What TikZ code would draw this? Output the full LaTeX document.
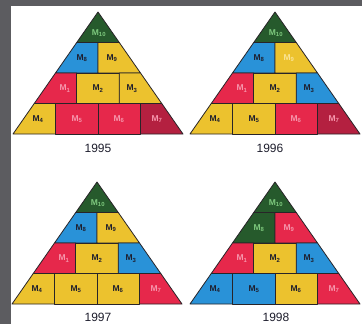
\documentclass[tikz,border=0pt]{standalone}
\usepackage{fontspec}
\setmainfont{Liberation Sans}
\usepackage{tikz}

\definecolor{frame}{RGB}{92,92,96}
\definecolor{edge}{RGB}{40,36,40}
\definecolor{cgreen}{RGB}{38,90,44}
\definecolor{cblue}{RGB}{41,146,216}
\definecolor{cyellow}{RGB}{236,194,46}
\definecolor{cred}{RGB}{230,40,75}
\definecolor{cwine}{RGB}{180,32,64}
\definecolor{tdark}{RGB}{30,30,45}
\definecolor{tgreen}{RGB}{125,200,125}
\definecolor{tpink}{RGB}{246,150,172}
\definecolor{tpale}{RGB}{250,228,150}

% one pyramid, apex at the origin; #1 = node prefix
\newcommand{\pyramid}[1]{%
  \path[cell,c10] (0,0) -- (-21.25,30.5) -- (21.25,30.5) -- cycle;
  \path[cell,c8] (-21.25,30.5) -- (0,30.5) -- (0,61) -- (-42.5,61) -- cycle;
  \path[cell,c9] (0,30.5) -- (21.25,30.5) -- (42.5,61) -- (0,61) -- cycle;
  \path[cell,c1] (-42.5,61) -- (-21.25,61) -- (-21.25,91.5) -- (-63.75,91.5) -- cycle;
  \path[cell,c2] (-21.25,61) rectangle (21.25,91.5);
  \path[cell,c3] (21.25,61) -- (42.5,61) -- (63.75,91.5) -- (21.25,91.5) -- cycle;
  \path[cell,c4] (-63.75,91.5) -- (-42.5,91.5) -- (-42.5,122) -- (-85,122) -- cycle;
  \path[cell,c5] (-42.5,91.5) rectangle (0,122);
  \path[cell,c6] (0,91.5) rectangle (42.5,122);
  \path[cell,c7] (42.5,91.5) -- (63.75,91.5) -- (85,122) -- (42.5,122) -- cycle;
  \node[c10,lab] (#1m10) at (1,21) {M\textsubscript{10}};
  \node[c8,lab] (#1m8) at (-16,46) {M\textsubscript{8}};
  \node[c9,lab] (#1m9) at (14,46) {M\textsubscript{9}};
  \node[c1,lab] (#1m1) at (-33,76.5) {M\textsubscript{1}};
  \node[c2,lab] (#1m2) at (0,76.5) {M\textsubscript{2}};
  \node[c3,lab] (#1m3) at (34,76.5) {M\textsubscript{3}};
  \node[c4,lab] (#1m4) at (-60,107) {M\textsubscript{4}};
  \node[c5,lab] (#1m5) at (-21,107) {M\textsubscript{5}};
  \node[c6,lab] (#1m6) at (21,107) {M\textsubscript{6}};
  \node[c7,lab] (#1m7) at (59,107) {M\textsubscript{7}};
}

\begin{document}
\begin{tikzpicture}[x=1pt,y=-1pt]
    \tikzstyle{cell}=[draw=edge, line width=0.8pt, line join=round]
    \tikzstyle{lab}=[fill=none, inner sep=0pt, font=\fontsize{8.5}{9}\selectfont\bfseries]
    \tikzstyle{year}=[text=tdark, inner sep=0pt, font=\fontsize{12}{13}\selectfont]
    \tikzstyle{greencell}=[fill=cgreen, text=tgreen]
    \tikzstyle{bluecell}=[fill=cblue, text=tdark]
    \tikzstyle{yellowcell}=[fill=cyellow, text=tdark]
    \tikzstyle{palecell}=[fill=cyellow, text=tpale]
    \tikzstyle{redcell}=[fill=cred, text=tpink]
    \tikzstyle{winecell}=[fill=cwine, text=tpink]

    \useasboundingbox (0,0) rectangle (362,324);
    \fill[white] (0,0) rectangle (362,324);
    \fill[frame] (0,0) rectangle (11,324);
    \fill[frame] (0,0) rectangle (362,6);

    % 1995
    \begin{scope}[shift={(98,12)},
        c10/.style=greencell, c8/.style=bluecell, c9/.style=yellowcell,
        c1/.style=redcell, c2/.style=yellowcell, c3/.style=yellowcell,
        c4/.style=yellowcell, c5/.style=redcell, c6/.style=redcell, c7/.style=winecell]
      \pyramid{a}
    \end{scope}
    \node[year] (ya) at (98,148) {1995};

    % 1996
    \begin{scope}[shift={(275,12)},
        c10/.style=greencell, c8/.style=bluecell, c9/.style=palecell,
        c1/.style=redcell, c2/.style=yellowcell, c3/.style=bluecell,
        c4/.style=yellowcell, c5/.style=yellowcell, c6/.style=redcell, c7/.style=winecell]
      \pyramid{b}
    \end{scope}
    \node[year] (yb) at (270,148) {1996};

    % 1997
    \begin{scope}[shift={(97,182)},
        c10/.style=greencell, c8/.style=bluecell, c9/.style=yellowcell,
        c1/.style=redcell, c2/.style=yellowcell, c3/.style=bluecell,
        c4/.style=yellowcell, c5/.style=yellowcell, c6/.style=yellowcell, c7/.style=redcell]
      \pyramid{c}
    \end{scope}
    \node[year] (yc) at (98,317) {1997};

    % 1998
    \begin{scope}[shift={(275,182)},
        c10/.style=greencell, c8/.style=greencell, c9/.style=redcell,
        c1/.style=redcell, c2/.style=yellowcell, c3/.style=bluecell,
        c4/.style=bluecell, c5/.style=bluecell, c6/.style=yellowcell, c7/.style=redcell]
      \pyramid{d}
    \end{scope}
    \node[year] (yd) at (276,317) {1998};
\end{tikzpicture}
\end{document}
